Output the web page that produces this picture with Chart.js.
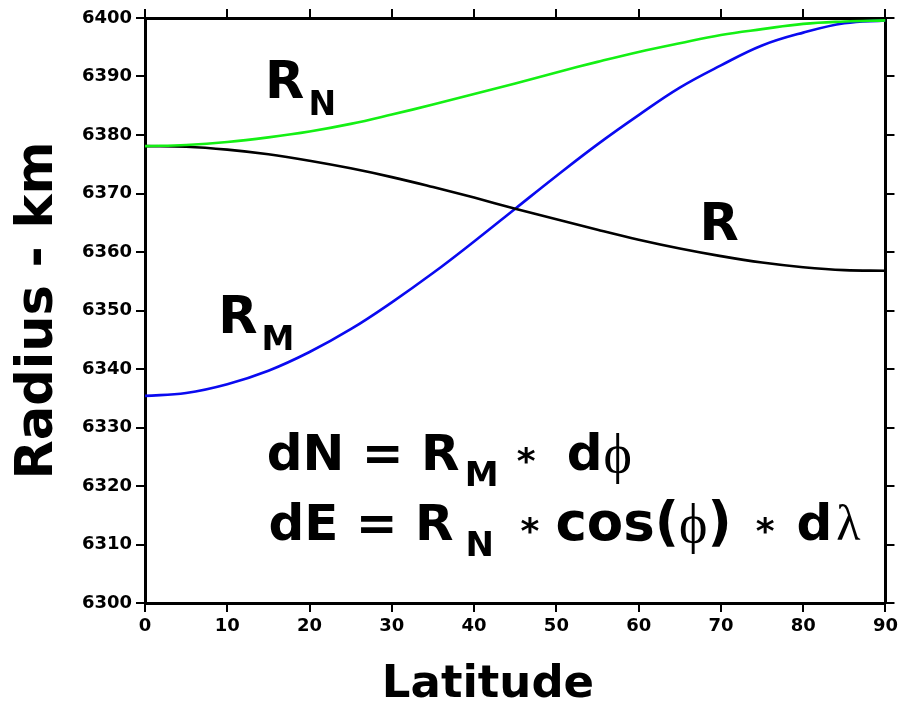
<!DOCTYPE html>
<html>
<head>
<meta charset="utf-8">
<script src="https://cdn.jsdelivr.net/npm/chart.js@4.4.1/dist/chart.umd.min.js"></script>
<style>
  html, body { margin: 0; padding: 0; background: #ffffff; }
  #wrap { width: 902px; height: 704px; position: relative; }
</style>
</head>
<body>
<div id="wrap"><canvas id="c"></canvas></div>
<script>
// ---- data ----
const latitudes = [0, 5, 10, 15, 20, 25, 30, 35, 40, 45, 50, 55, 60, 65, 70, 75, 80, 85, 90];
const radiusN = [6378.1, 6378.3, 6378.8, 6379.6, 6380.6, 6381.9, 6383.5, 6385.2, 6387.0, 6388.8, 6390.7, 6392.5, 6394.2, 6395.7, 6397.1, 6398.1, 6399.0, 6399.4, 6399.6];
const radiusM = [6335.4, 6335.9, 6337.4, 6339.7, 6342.9, 6346.8, 6351.4, 6356.4, 6361.8, 6367.4, 6373.0, 6378.4, 6383.4, 6388.1, 6391.9, 6395.3, 6397.5, 6399.1, 6399.6];
const radiusGeo = [6378.1, 6378.0, 6377.5, 6376.7, 6375.6, 6374.3, 6372.8, 6371.1, 6369.3, 6367.4, 6365.6, 6363.8, 6362.1, 6360.6, 6359.3, 6358.2, 6357.4, 6356.9, 6356.8];
const xTickValues = [0, 10, 20, 30, 40, 50, 60, 70, 80, 90];
const yMin = 6300, yMax = 6400, yStep = 10;
const xTitle = 'Latitude';
const yTitle = 'Radius - km';

const toPoints = (ys) => latitudes.map((x, i) => ({ x: x, y: ys[i] }));

const SANS = '"DejaVu Sans", "Liberation Sans", Arial, sans-serif';
const SERIF = '"Liberation Serif", "DejaVu Serif", serif';
const BIG = 'bold 50px ' + SANS;
const SUB = 'bold 34px ' + SANS;
const STAR = 'bold 36px ' + SANS;
const GREEK = '54px ' + SERIF;

// annotation anchors in data units (latitude, radius)
const curveLabels = [
  { main: 'R', sub: 'N', lat: 14.6, val: 6386.3 },
  { main: 'R', sub: 'M', lat: 8.9, val: 6346.2 },
  { main: 'R', sub: '',  lat: 67.4, val: 6362.1 }
];
// equation segments: text, font, placement ('a' absolute offset px from line start / 'g' gap after previous), baseline shift
const eqLines = [
  { lat: 14.8, val: 6322.8, segs: [
    ['dN = R', BIG, 'a', 0, 0],
    ['M', SUB, 'a', 198, 16],
    ['*', STAR, 'a', 250, 3],
    ['d', BIG, 'a', 300, 0],
    ['\u03D5', GREEK, 'g', 1, 2]
  ]},
  { lat: 15.0, val: 6310.8, segs: [
    ['dE = R', BIG, 'a', 0, 0],
    ['N', SUB, 'a', 197, 16],
    ['*', STAR, 'a', 252, 3],
    ['cos(', 'bold 53px ' + SANS, 'a', 287, 0],
    ['\u03D5', GREEK, 'g', 0, 2],
    [')', 'bold 53px ' + SANS, 'g', 0, 0],
    ['*', STAR, 'g', 24, 3],
    ['d', BIG, 'g', 22, 0],
    ['\u03BB', '50px ' + SERIF, 'g', 4, 0]
  ]}
];

const textPlugin = {
  id: 'textPlugin',
  afterDraw(chart) {
    const ctx = chart.ctx;
    const xs = chart.scales.x, ys = chart.scales.y;
    const area = chart.chartArea;
    ctx.save();
    ctx.fillStyle = '#000';
    ctx.textBaseline = 'alphabetic';
    ctx.textAlign = 'left';
    // curve labels
    curveLabels.forEach(l => {
      const px = xs.getPixelForValue(l.lat);
      const py = ys.getPixelForValue(l.val);
      ctx.font = 'bold 51px ' + SANS;
      ctx.fillText(l.main, px, py);
      if (l.sub) {
        const w = ctx.measureText(l.main).width;
        ctx.font = 'bold 33px ' + SANS;
        ctx.fillText(l.sub, px + w + 4, py + 17);
      }
    });
    // equations
    eqLines.forEach(line => {
      const px = xs.getPixelForValue(line.lat);
      const py = ys.getPixelForValue(line.val);
      let cursor = 0;
      line.segs.forEach(s => {
        ctx.font = s[1];
        const x0 = s[2] === 'a' ? s[3] : cursor + s[3];
        ctx.fillText(s[0], px + x0, py + s[4]);
        cursor = x0 + ctx.measureText(s[0]).width;
      });
    });
    // axis titles
    ctx.font = 'bold 45px ' + SANS;
    ctx.textAlign = 'center';
    ctx.fillText(xTitle, 488, 697);
    ctx.save();
    ctx.translate(52, (area.top + area.bottom) / 2);
    ctx.rotate(-Math.PI / 2);
    ctx.font = 'bold 51px ' + SANS;
    ctx.fillText(yTitle, 0, 0);
    ctx.restore();
    ctx.restore();
  }
};

const axisGrid = { drawOnChartArea: false, drawTicks: true, tickLength: 9, color: '#000', lineWidth: 2 };
const axisBorder = { display: true, color: '#000', width: 3 };
const tickFont = { family: SANS, size: 18, weight: 'bold' };

new Chart(document.getElementById('c'), {
  type: 'line',
  data: {
    datasets: [
      { label: 'RN', data: toPoints(radiusN), borderColor: '#14f014', borderWidth: 2.6, xAxisID: 'x', yAxisID: 'y' },
      { label: 'R', data: toPoints(radiusGeo), borderColor: '#000000', borderWidth: 2.6, xAxisID: 'x', yAxisID: 'y' },
      { label: 'RM', data: toPoints(radiusM), borderColor: '#0a0af0', borderWidth: 2.6, xAxisID: 'x', yAxisID: 'y' }
    ]
  },
  options: {
    responsive: true,
    maintainAspectRatio: false,
    animation: false,
    layout: { padding: 0 },
    elements: { point: { radius: 0 }, line: { tension: 0.4, fill: false } },
    plugins: { legend: { display: false }, tooltip: { enabled: false } },
    scales: {
      x: {
        type: 'linear', position: 'bottom', min: 0, max: 90,
        afterBuildTicks: s => { s.ticks = xTickValues.map(v => ({ value: v })); },
        ticks: { color: '#000', font: tickFont, padding: 4, maxRotation: 0, autoSkip: false },
        grid: axisGrid, border: axisBorder,
        afterFit: s => { s.height = 101; }
      },
      x2: {
        type: 'linear', position: 'top', min: 0, max: 90,
        afterBuildTicks: s => { s.ticks = xTickValues.map(v => ({ value: v })); },
        ticks: { display: false },
        grid: axisGrid, border: axisBorder,
        afterFit: s => { s.height = 18; }
      },
      y: {
        type: 'linear', position: 'left', min: yMin, max: yMax,
        ticks: { stepSize: yStep, color: '#000', font: tickFont, padding: 4, callback: v => String(v) },
        grid: axisGrid, border: axisBorder,
        afterFit: s => { s.width = 145; }
      },
      y2: {
        type: 'linear', position: 'right', min: yMin, max: yMax,
        ticks: { display: false, stepSize: yStep },
        grid: axisGrid, border: axisBorder,
        afterFit: s => { s.width = 15; }
      }
    }
  },
  plugins: [textPlugin]
});
</script>
</body>
</html>
